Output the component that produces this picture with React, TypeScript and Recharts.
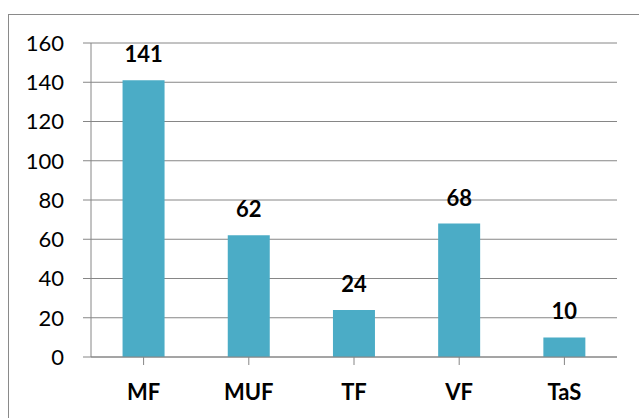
import React from 'react';
import { BarChart, Bar, XAxis, YAxis, CartesianGrid, LabelList } from 'recharts';

const categories = ['MF', 'MUF', 'TF', 'VF', 'TaS'];
const counts = [141, 62, 24, 68, 10];
const yTicks = [0, 20, 40, 60, 80, 100, 120, 140, 160];

const data = categories.map((name, i) => ({ name, value: counts[i] }));

const FONT = 'Lato, "Open Sans", sans-serif';
const GRID = '#868686';

const App: React.FC = () => {
    return (
        <div style={{ position: 'absolute', left: 0, top: 0, width: 639, height: 418, overflow: 'hidden', background: '#fff' }}>
            {/* outer chart frame, runs off the right and bottom edges */}
            <div style={{ position: 'absolute', left: 8, top: 14, width: 700, height: 500, border: '1px solid #8a8a8a' }} />
            <div style={{ position: 'absolute', left: 0, top: 0 }}>
                <BarChart
                    width={639}
                    height={418}
                    data={data}
                    margin={{ top: 43, right: 22, left: 0, bottom: 0 }}
                    barCategoryGap="30%"
                >
                    <CartesianGrid vertical={false} stroke={GRID} strokeWidth={1} />
                    <XAxis
                        dataKey="name"
                        height={61}
                        tickSize={8}
                        tickMargin={19}
                        axisLine={{ stroke: GRID }}
                        tickLine={{ stroke: GRID }}
                        interval={0}
                        tick={{ fill: '#000', fontSize: 22, fontWeight: 700, fontFamily: FONT }}
                    />
                    <YAxis
                        width={91}
                        domain={[0, 160]}
                        ticks={yTicks}
                        tickSize={8}
                        tickMargin={19}
                        axisLine={{ stroke: GRID }}
                        tickLine={{ stroke: GRID }}
                        tick={{ fill: '#000', fontSize: 22, fontFamily: FONT }}
                    />
                    <Bar dataKey="value" fill="#4bacc6" isAnimationActive={false}>
                        <LabelList
                            dataKey="value"
                            position="top"
                            offset={18}
                            style={{ fill: '#000', fontSize: 22, fontWeight: 700, fontFamily: FONT }}
                        />
                    </Bar>
                </BarChart>
            </div>
        </div>
    );
};

export default App;
